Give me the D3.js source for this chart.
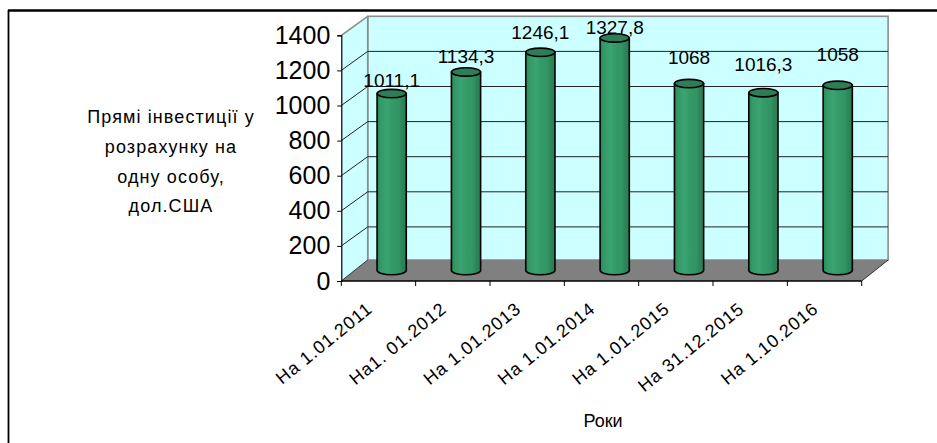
<!DOCTYPE html>
<html>
<head>
<meta charset="utf-8">
<script src="https://cdn.jsdelivr.net/npm/d3@7"></script>
<style>
  body { margin: 0; background: #fff; }
  svg { display: block; font-family: "Liberation Sans", Arial, sans-serif; }
</style>
</head>
<body>
<div id="chart"></div>
<script>
  // data
  var categories = ["На 1.01.2011", "На1. 01.2012", "На 1.01.2013", "На 1.01.2014",
                    "На 1.01.2015", "На 31.12.2015", "На 1.10.2016"];
  var values = [1011.1, 1134.3, 1246.1, 1327.8, 1068, 1016.3, 1058];
  var valueLabels = ["1011,1", "1134,3", "1246,1", "1327,8", "1068", "1016,3", "1058"];
  var yTicks = [0, 200, 400, 600, 800, 1000, 1200, 1400];
  var yTitle = ["Прямі інвестиції у", "розрахунку на", "одну особу,", "дол.США"];
  var xTitle = "Роки";

  // layout
  var W = 937, H = 443;
  var depthX = 26.4, depthY = -19, floorDepthY = -21;
  var labelNudge = [7, 9, 13, 4, 20, 22, 24]; // labels were moved by hand in the original

  var svg = d3.select('#chart').append('svg')
    .attr('width', W).attr('height', H);

  var x = d3.scaleBand().domain(categories).range([341.3, 861.7]);
  var y = d3.scaleLinear().domain([0, 1400]).range([281, 35.3]);

  var x0 = x.range()[0], x1 = x.range()[1];
  var y0 = y(0), yTop = y(1400);

  // outer frame: only the left and top edges show
  svg.append('line')
    .attr('x1', 8.5).attr('x2', 8.5).attr('y1', 10).attr('y2', H)
    .attr('stroke', '#000').attr('stroke-width', 1.8);
  svg.append('line')
    .attr('x1', 8).attr('x2', W).attr('y1', 10.5).attr('y2', 10.5)
    .attr('stroke', '#000').attr('stroke-width', 2.4);

  // gradient for the cylinders
  var defs = svg.append('defs');
  var grad = defs.append('linearGradient').attr('id', 'barGrad')
    .attr('x1', '0%').attr('x2', '100%').attr('y1', '0%').attr('y2', '0%');
  [[0, '#2b8558'], [0.12, '#339966'], [0.35, '#3aa472'], [0.5, '#349b68'],
   [0.75, '#319463'], [0.85, '#2d855a'], [1, '#2a7e55']].forEach(function(s) {
    grad.append('stop').attr('offset', s[0]).attr('stop-color', s[1]);
  });

  // back wall
  svg.append('rect')
    .attr('x', x0 + depthX).attr('y', yTop + depthY)
    .attr('width', x1 - x0).attr('height', (y0 + floorDepthY) - (yTop + depthY))
    .attr('fill', '#ccffff').attr('stroke', '#8c8c8c').attr('stroke-width', 1.6);

  // side wall
  svg.append('path')
    .attr('d', 'M' + x0 + ',' + y0 + 'L' + x0 + ',' + yTop +
               'L' + (x0 + depthX) + ',' + (yTop + depthY) +
               'L' + (x0 + depthX) + ',' + (y0 + floorDepthY) + 'Z')
    .attr('fill', '#ccffff');
  svg.append('line')
    .attr('x1', x0 + depthX).attr('x2', x0 + depthX)
    .attr('y1', yTop + depthY).attr('y2', y0 + floorDepthY)
    .attr('stroke', '#8c8c8c').attr('stroke-width', 1.6);
  svg.append('line')
    .attr('x1', x0).attr('y1', yTop).attr('x2', x0 + depthX).attr('y2', yTop + depthY)
    .attr('stroke', '#8c8c8c').attr('stroke-width', 1.6);

  // grid on back and side walls
  var inner = yTicks.filter(function(t) { return t > 0 && t < 1400; });
  svg.selectAll('.grid-back').data(inner).enter().append('line')
    .attr('x1', x0 + depthX).attr('x2', x1 + depthX)
    .attr('y1', function(d) { return y(d) + depthY; })
    .attr('y2', function(d) { return y(d) + depthY; })
    .attr('stroke', '#222').attr('stroke-width', 1);
  svg.selectAll('.grid-side').data(inner).enter().append('line')
    .attr('x1', x0).attr('x2', x0 + depthX)
    .attr('y1', function(d) { return y(d); })
    .attr('y2', function(d) { return y(d) + depthY; })
    .attr('stroke', '#222').attr('stroke-width', 1);

  // floor
  svg.append('path')
    .attr('d', 'M' + x0 + ',' + y0 + 'L' + x1 + ',' + y0 +
               'L' + (x1 + depthX) + ',' + (y0 + floorDepthY) +
               'L' + (x0 + depthX) + ',' + (y0 + floorDepthY) + 'Z')
    .attr('fill', '#808080');
  svg.append('line')
    .attr('x1', x0).attr('y1', y0).attr('x2', x0 + depthX).attr('y2', y0 + floorDepthY)
    .attr('stroke', '#333').attr('stroke-width', 1);
  svg.append('line')
    .attr('x1', x1).attr('y1', y0).attr('x2', x1 + depthX).attr('y2', y0 + floorDepthY)
    .attr('stroke', '#333').attr('stroke-width', 1);

  // cylinders, standing half way into the depth
  var rx = 14.6, ry = 4.2;
  var cx = function(i) { return x(categories[i]) + x.bandwidth() / 2 + depthX / 2; };
  var baseY = y0 + floorDepthY / 2;
  var topY = function(v) { return y(v) + depthY / 2 - 0.5; };

  var bars = svg.selectAll('.bar').data(values).enter().append('g').attr('class', 'bar');
  bars.append('path')
    .attr('d', function(d, i) {
      var c = cx(i), t = topY(d);
      return 'M' + (c - rx) + ',' + t + 'L' + (c - rx) + ',' + baseY +
             'A' + rx + ',' + ry + ' 0 0 0 ' + (c + rx) + ',' + baseY +
             'L' + (c + rx) + ',' + t + 'Z';
    })
    .attr('fill', 'url(#barGrad)')
    .attr('stroke', '#000').attr('stroke-width', 1.6).attr('stroke-linejoin', 'round');
  bars.append('ellipse')
    .attr('cx', function(d, i) { return cx(i); })
    .attr('cy', function(d) { return topY(d); })
    .attr('rx', rx).attr('ry', ry)
    .attr('fill', '#2e7d57')
    .attr('stroke', '#000').attr('stroke-width', 1.6);

  // value labels
  svg.selectAll('.vlabel').data(values).enter().append('text')
    .attr('x', function(d, i) { return cx(i); })
    .attr('y', function(d, i) { return topY(d) - labelNudge[i]; })
    .attr('text-anchor', 'middle')
    .attr('font-size', 19)
    .attr('fill', '#000')
    .text(function(d, i) { return valueLabels[i]; });

  // y axis (front edge)
  var yAxis = svg.append('g')
    .attr('transform', 'translate(' + x0 + ',0)')
    .call(d3.axisLeft(y).tickValues(yTicks).tickSize(4).tickPadding(7)
      .tickFormat(d3.format('d')));
  yAxis.select('.domain').attr('stroke', '#000').attr('stroke-width', 1.2);
  yAxis.selectAll('.tick line').attr('stroke', '#000');
  yAxis.selectAll('.tick text')
    .attr('font-size', 25).attr('font-family', '"Liberation Sans", Arial, sans-serif')
    .attr('fill', '#000');

  // x axis (front edge)
  svg.append('line')
    .attr('x1', x0).attr('x2', x1).attr('y1', y0).attr('y2', y0)
    .attr('stroke', '#000').attr('stroke-width', 1.5);
  var edges = categories.map(function(c) { return x(c); }).concat([x1]);
  svg.selectAll('.xtick').data(edges).enter().append('line')
    .attr('x1', function(d) { return d; }).attr('x2', function(d) { return d; })
    .attr('y1', y0).attr('y2', y0 + 5)
    .attr('stroke', '#000').attr('stroke-width', 1);

  svg.selectAll('.xlabel').data(categories).enter().append('text')
    .attr('transform', function(d) {
      return 'translate(' + (x(d) + x.bandwidth() / 2 - 5) + ',' + (y0 + 30) + ') rotate(-39)';
    })
    .attr('text-anchor', 'end')
    .attr('font-size', 18)
    .attr('letter-spacing', 0.9)
    .attr('fill', '#000')
    .text(function(d) { return d; });

  // axis titles
  svg.append('text')
    .attr('x', 171).attr('y', 123)
    .attr('text-anchor', 'middle')
    .attr('font-size', 18)
    .attr('letter-spacing', 1.1)
    .attr('fill', '#000')
    .selectAll('tspan').data(yTitle).enter().append('tspan')
    .attr('x', 171)
    .attr('dy', function(d, i) { return i === 0 ? 0 : 29.8; })
    .text(function(d) { return d; });

  svg.append('text')
    .attr('x', 603).attr('y', 427)
    .attr('text-anchor', 'middle')
    .attr('font-size', 18)
    .attr('fill', '#000')
    .text(xTitle);
</script>
</body>
</html>
